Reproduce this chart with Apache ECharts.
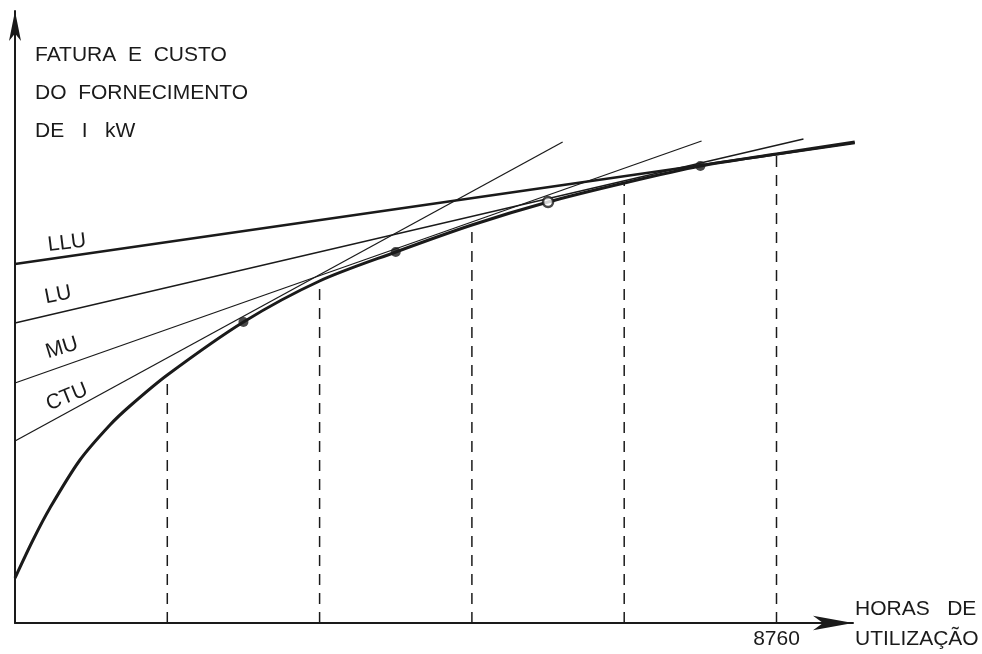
<!DOCTYPE html>
<html>
<head>
<meta charset="utf-8">
<script src="https://cdn.jsdelivr.net/npm/echarts@6/dist/echarts.min.js"></script>
<style>
  html, body { margin: 0; padding: 0; background: #fff; }
  #chart { width: 982px; height: 654px; }
</style>
</head>
<body>
<div id="chart"></div>
<script>
// curva da fatura (envoltória)
var hours = [0, 207, 402, 747, 1092, 1322, 1752, 2628, 3504, 4380, 5256, 6132, 7008, 7884, 8760, 9660];
var cost = [45, 83, 115, 163, 198, 217, 248, 301, 342, 371, 398, 421, 440, 457, 469, 481];

// retas das tarifas
var tariffNames = ["LLU", "LU", "MU", "CTU"];
var tariffStart = [359, 300, 240, 182];
var tariffEndHours = [9660, 9070, 7898, 6300];
var tariffEnd = [480, 484, 482, 481];

// verticais tracejadas
var dashHours = [1752, 3504, 5256, 7008, 8760];
var dashTop = [248, 342, 398, 440, 469];

// pontos de tangência
var tanHours = [2628, 4380, 6132, 7884];
var tanCost = [301, 371, 421, 457];
var tanOpen = [false, false, true, false];

var ink = "#1a1a1a";
var font = "Liberation Sans";

var myChart = echarts.init(document.getElementById("chart"));

var series = [];

series.push({
  name: "curva",
  type: "line",
  data: hours.map(function (h, i) { return [h, cost[i]]; }),
  smooth: 0.3,
  showSymbol: false,
  lineStyle: { color: ink, width: 3 },
  z: 5,
});

for (var i = 0; i < tariffNames.length; i++) {
  series.push({
    name: tariffNames[i],
    type: "line",
    data: [[0, tariffStart[i]], [tariffEndHours[i], tariffEnd[i]]],
    showSymbol: false,
    lineStyle: { color: ink, width: i === 0 ? 2.5 : 1.3 },
    z: 4,
  });
}

for (var j = 0; j < dashHours.length; j++) {
  series.push({
    type: "line",
    data: [[dashHours[j], 0], [dashHours[j], dashTop[j]]],
    showSymbol: false,
    lineStyle: { color: ink, width: 1.5, type: [11, 8] },
    z: 3,
  });
}

series.push({
  type: "scatter",
  data: tanHours.map(function (h, i) {
    return {
      value: [h, tanCost[i]],
      itemStyle: tanOpen[i]
        ? { color: "#fff", borderColor: ink, borderWidth: 2.5 }
        : { color: ink },
    };
  }),
  symbolSize: 10,
  z: 6,
});

// rótulos das retas
var labelPos = [[67, 243, 7], [58, 295, 11], [62, 348, 17], [67, 397, 22]];
var graphics = labelPos.map(function (p, i) {
  return {
    type: "text",
    x: p[0],
    y: p[1],
    rotation: p[2] * Math.PI / 180,
    style: {
      text: tariffNames[i],
      fill: ink,
      font: "21px '" + font + "'",
      align: "center",
      verticalAlign: "middle",
    },
  };
});

graphics.push({
  type: "text",
  left: 35,
  top: 36,
  style: {
    text: "FATURA  E  CUSTO\nDO  FORNECIMENTO\nDE   I   kW",
    fill: ink,
    font: "21px '" + font + "'",
    lineHeight: 38,
  },
});
graphics.push({
  type: "text",
  left: 855,
  top: 594,
  style: {
    text: "HORAS   DE\nUTILIZAÇÃO",
    fill: ink,
    font: "21px '" + font + "'",
    lineHeight: 30,
  },
});

myChart.setOption({
  animation: false,
  backgroundColor: "#fff",
  grid: { left: 15, right: 129, top: 11, bottom: 31 },
  xAxis: {
    type: "value",
    min: 0,
    max: 9640,
    interval: 8760,
    axisLine: {
      lineStyle: { color: ink, width: 2 },
      symbol: ["none", "arrow"],
      symbolSize: [11, 40],
    },
    axisTick: { show: false },
    splitLine: { show: false },
    axisLabel: {
      margin: 6,
      color: ink,
      fontSize: 21,
      fontFamily: font,
      showMaxLabel: false,
      formatter: function (v) { return v === 8760 ? "8760" : ""; },
    },
  },
  yAxis: {
    type: "value",
    min: 0,
    max: 612,
    axisLine: {
      lineStyle: { color: ink, width: 2 },
      symbol: ["none", "arrow"],
      symbolSize: [9, 30],
    },
    axisTick: { show: false },
    axisLabel: { show: false },
    splitLine: { show: false },
  },
  graphic: graphics,
  series: series,
});
</script>
</body>
</html>
